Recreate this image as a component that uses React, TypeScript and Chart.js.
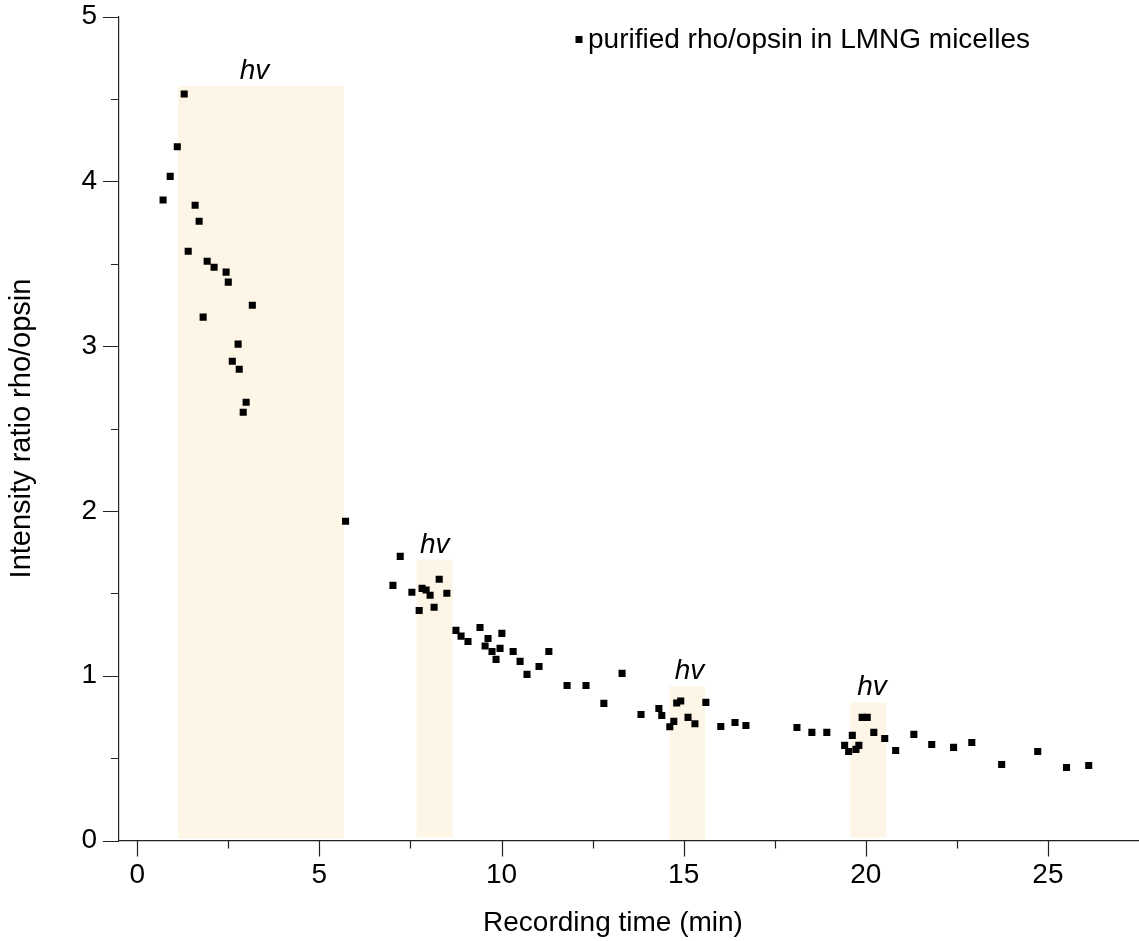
import React, { useEffect, useRef } from 'react';
import { Chart, registerables } from 'chart.js';

Chart.register(...registerables);

const FONT = "'Liberation Sans', Arial, Helvetica, sans-serif";

// Recording time (min)
const times = [
  0.71, 0.905, 1.10, 1.29, 1.40, 1.59, 1.70, 1.81, 1.92, 2.11,
  2.44, 2.50, 2.61, 2.77, 2.80, 2.91, 2.99, 3.16, 5.72,
  7.02, 7.22, 7.54, 7.74, 7.82, 7.93, 8.04, 8.15, 8.29, 8.50,
  8.75, 8.89, 9.08, 9.41, 9.55, 9.63, 9.74, 9.85, 9.96, 10.01,
  10.32, 10.51, 10.70, 11.03, 11.30, 11.80, 12.32, 12.81, 13.31, 13.83,
  14.32, 14.40, 14.62, 14.73, 14.81, 14.92, 15.12, 15.31, 15.61, 16.02,
  16.41, 16.71, 18.11, 18.52, 18.93, 19.42, 19.53, 19.63, 19.73, 19.81,
  19.90, 20.04, 20.22, 20.52, 20.82, 21.32, 21.81, 22.41, 22.91, 23.73,
  24.72, 25.51, 26.12,
];

// Intensity ratio rho/opsin
const ratios = [
  3.886, 4.03, 4.21, 4.53, 3.576, 3.855, 3.758, 3.176, 3.515, 3.479,
  3.449, 3.388, 2.908, 3.012, 2.86, 2.599, 2.659, 3.248, 1.937,
  1.548, 1.724, 1.506, 1.396, 1.53, 1.52, 1.488, 1.415, 1.585, 1.5,
  1.275, 1.24, 1.208, 1.293, 1.18, 1.226, 1.147, 1.099, 1.166, 1.257,
  1.147, 1.087, 1.008, 1.056, 1.147, 0.941, 0.941, 0.832, 1.014, 0.765,
  0.801, 0.759, 0.69, 0.723, 0.834, 0.846, 0.747, 0.708, 0.838, 0.692,
  0.716, 0.698, 0.686, 0.656, 0.656, 0.577, 0.54, 0.638, 0.553, 0.577,
  0.747, 0.747, 0.656, 0.619, 0.546, 0.644, 0.583, 0.565, 0.595, 0.461,
  0.54, 0.443, 0.455,
];

// illumination (hv) periods
const hvStart = [1.12, 7.67, 14.61, 19.58];
const hvEnd = [5.67, 8.66, 15.59, 20.56];
const hvTop = [4.578, 1.704, 0.935, 0.838];
const hvBottom = [0.012, 0.02, 0, 0.018];
const hvLabelX = [3.22, 8.17, 15.16, 20.17];
const hvLabel = 'hv';

const xTickValues = [0, 5, 10, 15, 20, 25];
const xMinorValues = [2.5, 7.5, 12.5, 17.5, 22.5];
const yTickValues = [0, 1, 2, 3, 4, 5];
const yMinorValues = [0.5, 1.5, 2.5, 3.5, 4.5];

const seriesLabel = 'purified rho/opsin in LMNG micelles';
const xTitle = 'Recording time (min)';
const yTitle = 'Intensity ratio rho/opsin';

const AXIS_COLOR = '#222';

const decorPlugin = {
  id: 'decor',
  beforeDraw(chart: any) {
    const { ctx } = chart;
    const x = chart.scales.x;
    const y = chart.scales.y;
    ctx.save();
    ctx.fillStyle = '#fdf5e6';
    hvStart.forEach((s, i) => {
      const x1 = x.getPixelForValue(s);
      const x2 = x.getPixelForValue(hvEnd[i]);
      const y1 = y.getPixelForValue(hvTop[i]);
      const y2 = y.getPixelForValue(hvBottom[i]);
      ctx.fillRect(x1, y1, x2 - x1, y2 - y1);
    });
    ctx.fillStyle = '#000';
    ctx.font = `italic 28px ${FONT}`;
    ctx.textAlign = 'center';
    ctx.textBaseline = 'alphabetic';
    hvLabelX.forEach((lx, i) => {
      ctx.fillText(hvLabel, x.getPixelForValue(lx), y.getPixelForValue(hvTop[i]) - 7);
    });
    ctx.restore();
  },
  afterDraw(chart: any) {
    const { ctx, chartArea } = chart;
    const x = chart.scales.x;
    const y = chart.scales.y;
    ctx.save();
    ctx.strokeStyle = AXIS_COLOR;
    ctx.lineWidth = 1.2;
    ctx.beginPath();
    const bottom = chartArea.bottom;
    const left = chartArea.left;
    xTickValues.forEach((v) => {
      const px = Math.round(x.getPixelForValue(v)) + 0.5;
      ctx.moveTo(px, bottom);
      ctx.lineTo(px, bottom + 16);
    });
    xMinorValues.forEach((v) => {
      const px = Math.round(x.getPixelForValue(v)) + 0.5;
      ctx.moveTo(px, bottom);
      ctx.lineTo(px, bottom + 8);
    });
    yTickValues.forEach((v) => {
      const py = Math.round(y.getPixelForValue(v)) + 0.5;
      ctx.moveTo(left, py);
      ctx.lineTo(left - 16, py);
    });
    yMinorValues.forEach((v) => {
      const py = Math.round(y.getPixelForValue(v)) + 0.5;
      ctx.moveTo(left, py);
      ctx.lineTo(left - 8, py);
    });
    ctx.stroke();

    // x axis title
    ctx.fillStyle = '#000';
    ctx.font = `28px ${FONT}`;
    ctx.textAlign = 'center';
    ctx.textBaseline = 'alphabetic';
    ctx.fillText(xTitle, 613, 931);

    // legend
    const ds = chart.data.datasets[0];
    ctx.fillStyle = '#000';
    ctx.fillRect(575.5, 36, 7, 7);
    ctx.textAlign = 'left';
    ctx.textBaseline = 'middle';
    ctx.font = `28px ${FONT}`;
    ctx.fillText(ds.label, 588, 40.5);
    ctx.restore();
  },
};

export default function App() {
  const canvasRef = useRef<HTMLCanvasElement | null>(null);

  useEffect(() => {
    const canvas = canvasRef.current;
    if (!canvas) return;
    const chart = new Chart(canvas, {
      type: 'scatter',
      data: {
        datasets: [
          {
            label: seriesLabel,
            data: times.map((t, i) => ({ x: t, y: ratios[i] })),
            pointStyle: 'rect',
            pointRadius: 5,
            pointHoverRadius: 5,
            backgroundColor: '#000',
            borderColor: '#000',
            borderWidth: 0,
          },
        ],
      },
      options: {
        animation: false,
        responsive: false,
        events: [],
        layout: { padding: { top: 16.5, right: 0, bottom: 0, left: 0 }, autoPadding: false },
        plugins: {
          legend: { display: false },
          tooltip: { enabled: false },
        },
        scales: {
          x: {
            type: 'linear',
            min: -0.5,
            max: 27.5,
            afterFit: (scale: any) => {
              scale.height = 100.5;
              scale.paddingLeft = 0;
              scale.paddingRight = 0;
            },
            afterBuildTicks: (scale: any) => {
              scale.ticks = xTickValues.map((v) => ({ value: v }));
            },
            grid: { display: false, drawTicks: false },
            border: { display: true, color: AXIS_COLOR, width: 1.2 },
            ticks: {
              padding: 18,
              color: '#000',
              font: { family: FONT, size: 28 },
              maxRotation: 0,
              autoSkip: false,
              callback: (v: any) => String(v),
            },
            title: { display: false },
          },
          y: {
            type: 'linear',
            min: 0,
            max: 5,
            afterFit: (scale: any) => {
              scale.width = 119;
              scale.paddingTop = 0;
              scale.paddingBottom = 0;
            },
            afterBuildTicks: (scale: any) => {
              scale.ticks = yTickValues.map((v) => ({ value: v }));
            },
            grid: { display: false, drawTicks: false },
            border: { display: true, color: AXIS_COLOR, width: 1.2 },
            ticks: {
              padding: 22,
              color: '#000',
              font: { family: FONT, size: 28 },
              autoSkip: false,
              callback: (v: any) => String(v),
            },
            title: {
              display: true,
              text: yTitle,
              color: '#000',
              font: { family: FONT, size: 29 },
              padding: { top: 5, bottom: 0 },
            },
          },
        },
      },
      plugins: [decorPlugin],
    });
    return () => chart.destroy();
  }, []);

  return (
    <div style={{ position: 'fixed', left: 0, top: 0, width: 1139, height: 941, background: '#fff' }}>
      <canvas ref={canvasRef} width={1139} height={941} style={{ display: 'block' }} />
    </div>
  );
}
